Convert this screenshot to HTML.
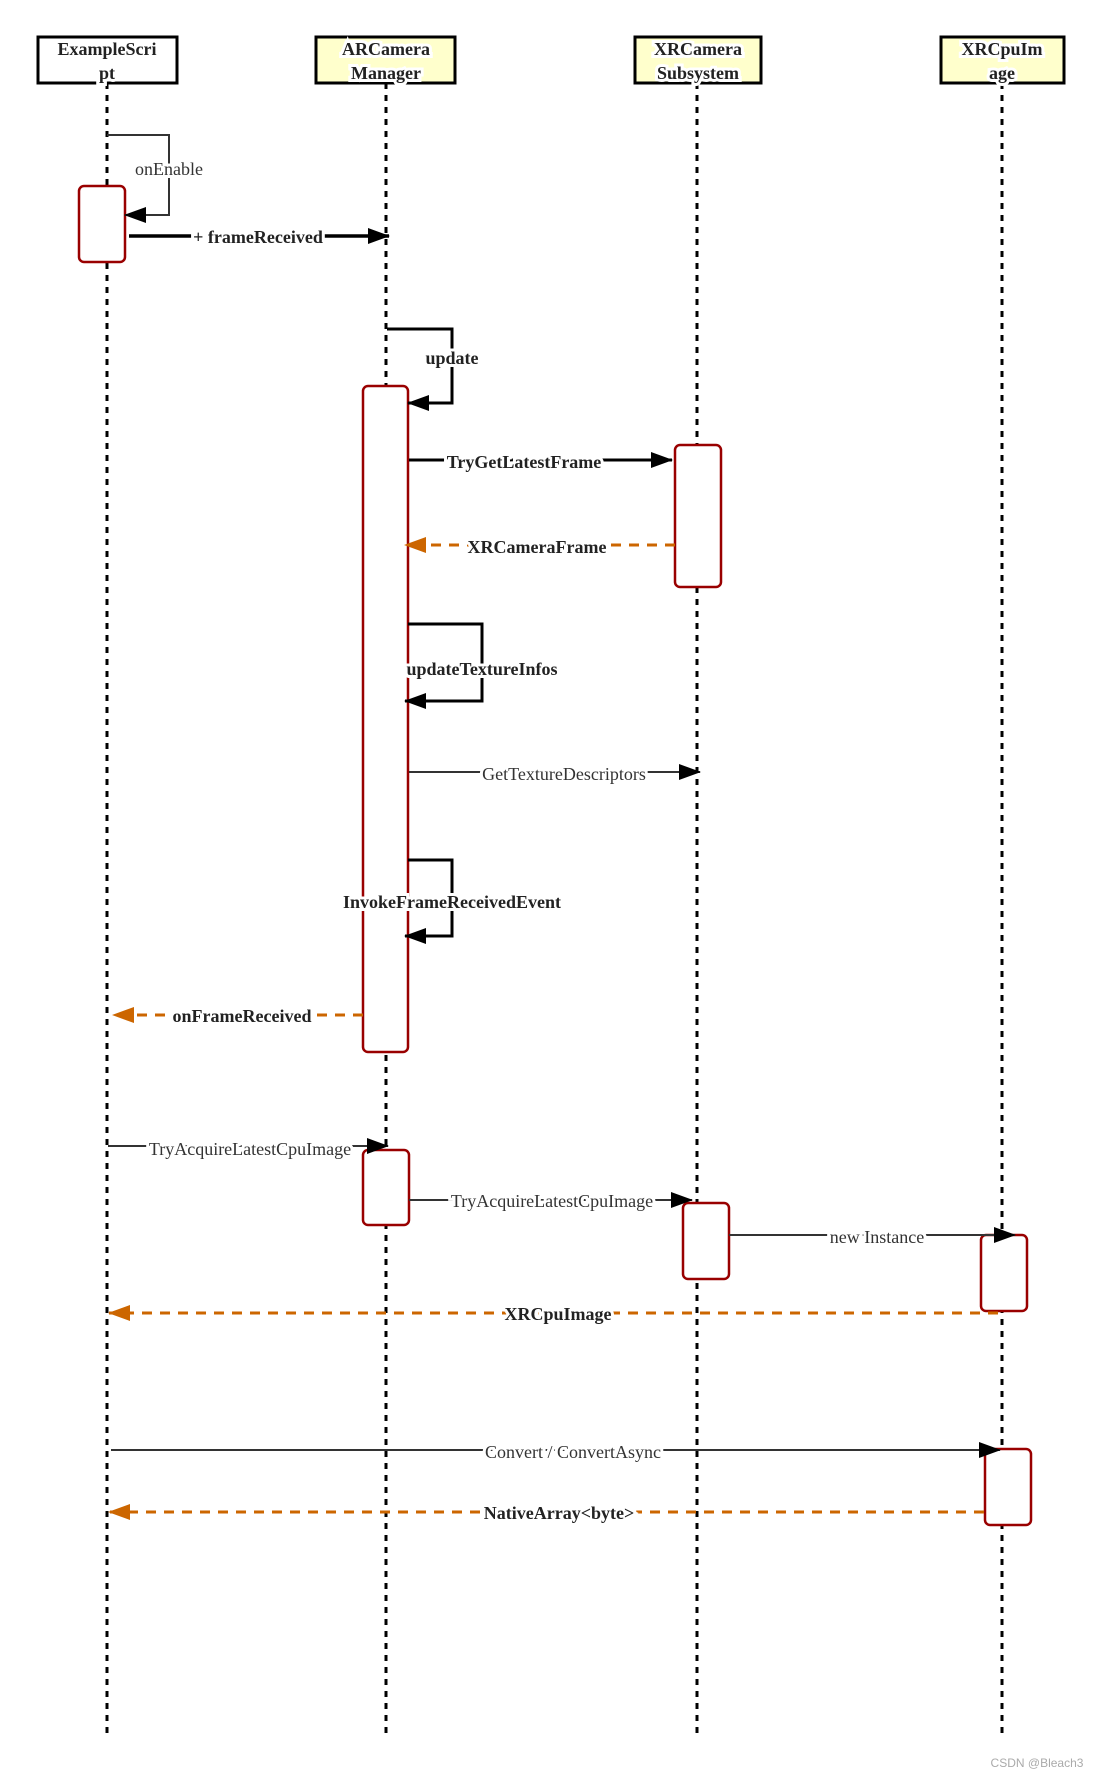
<!DOCTYPE html>
<html><head><meta charset="utf-8"><style>html,body{margin:0;padding:0;background:#fff}svg{display:block}text{font-family:"Liberation Serif",serif;font-size:18px;text-anchor:middle;paint-order:stroke;stroke:#fff;stroke-width:6px}</style></head>
<body>
<svg width="1100" height="1778" viewBox="0 0 1100 1778" xmlns="http://www.w3.org/2000/svg">
<defs>
<marker id="ab" markerWidth="10" markerHeight="10" refX="9" refY="5" orient="auto" markerUnits="userSpaceOnUse" viewBox="0 0 10 10"><path d="M0,0 L10,5 L0,10z" fill="#000"/></marker>
<marker id="ag" markerWidth="12" markerHeight="10" refX="11" refY="5" orient="auto" markerUnits="userSpaceOnUse" viewBox="0 0 12 10"><path d="M0,0 L12,5 L0,10z" fill="#333"/></marker>
<marker id="ao" markerWidth="22" markerHeight="16" refX="21" refY="8" orient="auto" markerUnits="userSpaceOnUse" viewBox="0 0 22 16"><path d="M0,0 L22,8 L0,16z" fill="#cc6600"/></marker>
<marker id="abig" markerWidth="22" markerHeight="16" refX="21" refY="8" orient="auto" markerUnits="userSpaceOnUse" viewBox="0 0 22 16"><path d="M0,0 L22,8 L0,16z" fill="#000"/></marker>
</defs>
<g stroke="#000" stroke-width="3" stroke-dasharray="6 6">
<line x1="107" y1="83" x2="107" y2="1735"/><line x1="386" y1="83" x2="386" y2="1735"/>
<line x1="697" y1="83" x2="697" y2="1735"/><line x1="1002" y1="83" x2="1002" y2="1735"/>
</g>
<g stroke="#000" stroke-width="3">
<rect x="38" y="37" width="139" height="46" fill="#fff"/>
<rect x="316" y="37" width="139" height="46" fill="#ffffcc"/>
<rect x="635" y="37" width="126" height="46" fill="#ffffcc"/>
<rect x="941" y="37" width="123" height="46" fill="#ffffcc"/>
</g>
<g style="font-weight:bold;stroke:none" fill="#222">
<text x="107" y="55">ExampleScri</text><text x="107" y="79">pt</text>
<text x="386" y="55">ARCamera</text><text x="386" y="79">Manager</text>
<text x="698" y="55">XRCamera</text><text x="698" y="79">Subsystem</text>
<text x="1002" y="55">XRCpuIm</text><text x="1002" y="79">age</text>
</g>
<g fill="#fff" stroke="#990000" stroke-width="2.5">
<rect x="79" y="186" width="46" height="76" rx="5"/>
<rect x="363" y="386" width="45" height="666" rx="5"/>
<rect x="675" y="445" width="46" height="142" rx="5"/>
<rect x="363" y="1150" width="46" height="75" rx="5"/>
<rect x="683" y="1203" width="46" height="76" rx="5"/>
<rect x="981" y="1235" width="46" height="76" rx="5"/>
<rect x="985" y="1449" width="46" height="76" rx="5"/>
</g>
<g fill="none">
<path d="M107,135 H169 V215 H125" stroke="#333" stroke-width="2" marker-end="url(#abig)"/>
<path d="M129,236 H389" stroke="#000" stroke-width="3.5" marker-end="url(#abig)"/>
<path d="M387,329 H452 V403 H408" stroke="#000" stroke-width="3" marker-end="url(#abig)"/>
<path d="M409,460 H672" stroke="#000" stroke-width="3" marker-end="url(#abig)"/>
<path d="M675,545 H405" stroke="#cc6600" stroke-width="3" stroke-dasharray="10 8" marker-end="url(#ao)"/>
<path d="M408,624 H482 V701 H405" stroke="#000" stroke-width="3" marker-end="url(#abig)"/>
<path d="M409,772 H700" stroke="#333" stroke-width="2" marker-end="url(#abig)"/>
<path d="M408,860 H452 V936 H405" stroke="#000" stroke-width="3" marker-end="url(#abig)"/>
<path d="M363,1015 H113" stroke="#cc6600" stroke-width="3" stroke-dasharray="10 8" marker-end="url(#ao)"/>
<path d="M108,1146 H388" stroke="#333" stroke-width="2" marker-end="url(#abig)"/>
<path d="M409,1200 H692" stroke="#333" stroke-width="2" marker-end="url(#abig)"/>
<path d="M729,1235 H1015" stroke="#333" stroke-width="2" marker-end="url(#abig)"/>
<path d="M998,1313 H109" stroke="#cc6600" stroke-width="3" stroke-dasharray="10 8" marker-end="url(#ao)"/>
<path d="M111,1450 H1000" stroke="#333" stroke-width="2" marker-end="url(#abig)"/>
<path d="M984,1512 H109" stroke="#cc6600" stroke-width="3" stroke-dasharray="10 8" marker-end="url(#ao)"/>
</g>
<g fill="#333">
<text x="169" y="175">onEnable</text>
<text x="564" y="780">GetTextureDescriptors</text>
<text x="250" y="1155">TryAcquireLatestCpuImage</text>
<text x="552" y="1207">TryAcquireLatestCpuImage</text>
<text x="877" y="1243">new Instance</text>
<text x="573" y="1458">Convert / ConvertAsync</text>
</g>
<g fill="#222" style="font-weight:bold">
<text x="258" y="243">+ frameReceived</text>
<text x="452" y="364">update</text>
<text x="524" y="468">TryGetLatestFrame</text>
<text x="537" y="553">XRCameraFrame</text>
<text x="482" y="675">updateTextureInfos</text>
<text x="452" y="908">InvokeFrameReceivedEvent</text>
<text x="242" y="1022">onFrameReceived</text>
<text x="558" y="1320">XRCpuImage</text>
<text x="559" y="1519">NativeArray&lt;byte&gt;</text>
</g>
<text x="1037" y="1767" style="font-family:'Liberation Sans',sans-serif;font-size:12px;stroke:none" fill="#aaa">CSDN @Bleach3</text>
</svg>
</body></html>
